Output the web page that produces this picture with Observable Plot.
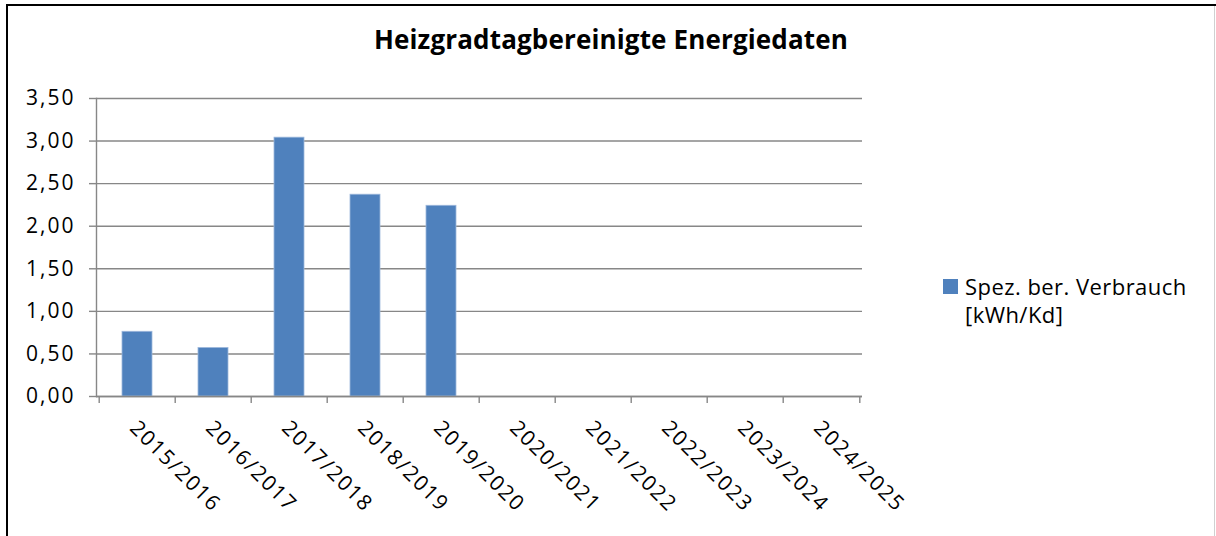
<!DOCTYPE html>
<html>
<head>
<meta charset="utf-8">
<script src="https://cdn.jsdelivr.net/npm/d3@7"></script>
<script src="https://cdn.jsdelivr.net/npm/@observablehq/plot@0.6"></script>
<style>
  html, body { margin: 0; padding: 0; background: #fff; }
  #wrap { position: relative; width: 1216px; height: 536px; overflow: hidden; background: #fff;
          font-family: "Open Sans", "Noto Sans", sans-serif; }
  #bl { position: absolute; left: 6px; top: 4px; width: 2px; height: 532px; background: #000; }
  #bt { position: absolute; left: 6px; top: 4px; width: 1210px; height: 2px; background: #000; }
  #br { position: absolute; left: 1214px; top: 6px; width: 1px; height: 530px; background: #d0d0d0; }
  #title { position: absolute; left: 0; width: 1222px; top: 24px; text-align: center;
           font-weight: bold; font-size: 26px; letter-spacing: 0.15px; color: #000; line-height: 30px; }
  #legend { position: absolute; left: 943px; top: 272px; font-size: 22px; line-height: 28px; color: #000; letter-spacing: 0.45px; }
  #legend .sw { position: absolute; left: 0; top: 7px; width: 15px; height: 15px; background: #4F81BD; }
  #legend .tx { position: absolute; left: 22px; top: 0; white-space: nowrap; }
  #chart { position: absolute; left: 0; top: 0; }
  #chart g[aria-label="y-axis tick label"] text { letter-spacing: 2px; }
  #chart g[aria-label="x-axis tick label"] text { letter-spacing: 1.6px; }
</style>
</head>
<body>
<div id="wrap">
  <div id="chart"></div>
  <div id="bl"></div><div id="bt"></div><div id="br"></div>
  <div id="title"></div>
  <div id="legend"><div class="sw"></div><div class="tx"></div></div>
</div>
<script>
const title = "Heizgradtagbereinigte Energiedaten";
const seriesName = ["Spez. ber. Verbrauch", "[kWh/Kd]"];
const seasons = ["2015/2016","2016/2017","2017/2018","2018/2019","2019/2020",
                 "2020/2021","2021/2022","2022/2023","2023/2024","2024/2025"];
const values = [0.76, 0.57, 3.04, 2.37, 2.24, null, null, null, null, null];
const yTicks = [0, 0.5, 1, 1.5, 2, 2.5, 3, 3.5];

document.getElementById("title").textContent = title;
document.querySelector("#legend .tx").innerHTML = seriesName.join("<br>");

const data = seasons.map((s, i) => ({season: s, value: values[i]})).filter(d => d.value != null);

const W = 1216, H = 536, mL = 96, mR = 354, mT = 98, mB = 140;
const step = (W - mL - mR) / seasons.length;
const fmt = d => d.toFixed(2).replace(".", ",");
const gray = "#878787";

const plot = Plot.plot({
  width: W, height: H,
  marginLeft: mL, marginRight: mR, marginTop: mT, marginBottom: mB,
  style: {fontFamily: "'Open Sans', 'Noto Sans', sans-serif", fontSize: "21px", color: "#000", background: "transparent"},
  x: {domain: seasons, padding: 0.6, paddingOuter: 0.3, align: 0.5},
  y: {domain: [0, 3.5]},
  marks: [
    Plot.gridY(yTicks, {stroke: gray, strokeOpacity: 1, strokeWidth: 1.4}),
    Plot.frame({anchor: "left", stroke: gray, strokeWidth: 1.4}),
    Plot.barY(data, {x: "season", y: "value", fill: "#4F81BD", stroke: "#9db8dc", strokeWidth: 0.8, inset: 0}),
    Plot.ruleY([0], {stroke: gray, strokeWidth: 1.4}),
    Plot.axisY(yTicks, {tickSize: 7, tickPadding: 14, tickFormat: fmt, stroke: gray, strokeWidth: 1.4, label: null, fontSize: 21}),
    Plot.axisX(seasons, {tickSize: 7, text: null, dx: -step / 2, stroke: gray, strokeWidth: 1.4, label: null}),
    Plot.axisX([seasons[seasons.length - 1]], {tickSize: 7, text: null, dx: step / 2, stroke: gray, strokeWidth: 1.4, label: null}),
    Plot.axisX(seasons, {tickSize: 0, tickRotate: 45, tickPadding: 28, label: null, fontSize: 21, textAnchor: "start", dx: -4})
  ]
});
document.getElementById("chart").appendChild(plot);
</script>
</body>
</html>
